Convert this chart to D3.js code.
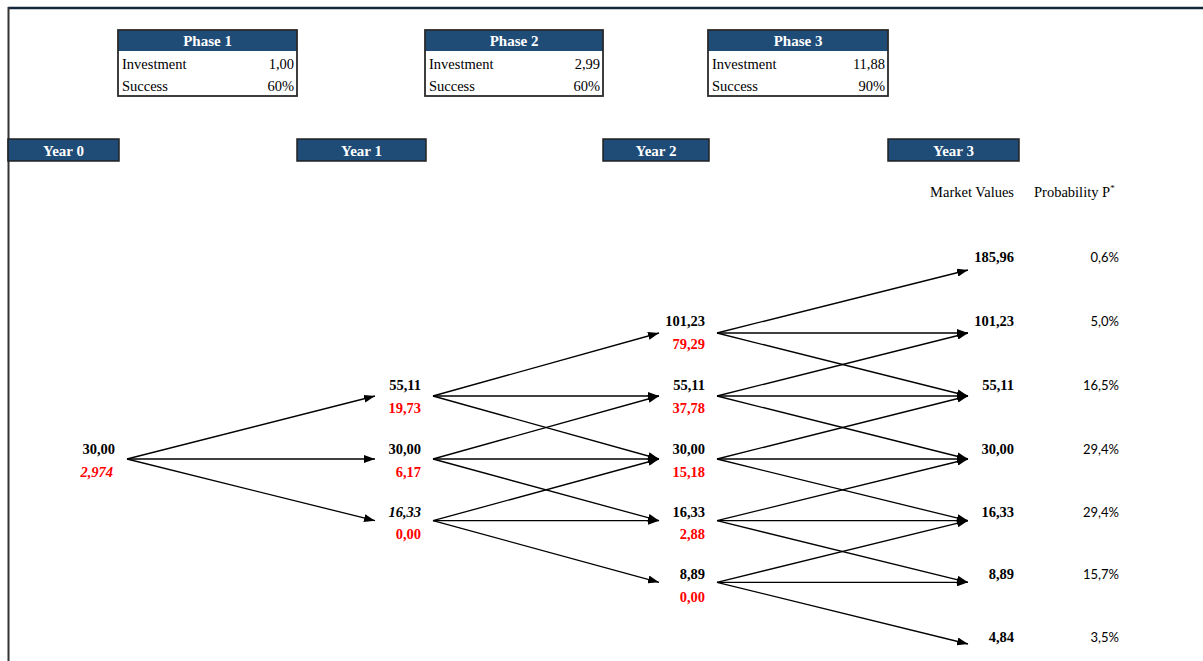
<!DOCTYPE html>
<html>
<head>
<meta charset="utf-8">
<script src="https://cdn.jsdelivr.net/npm/d3@7"></script>
<style>
  html, body { margin: 0; padding: 0; background: #fff; }
  svg { display: block; }
</style>
</head>
<body>
<svg id="chart" width="1203" height="661"></svg>
<script>
// ---------- data ----------
const years = ["Year 0", "Year 1", "Year 2", "Year 3"];
const phases = ["Phase 1", "Phase 2", "Phase 3"];
const phaseRowLabels = ["Investment", "Success"];
const phaseInvestment = ["1,00", "2,99", "11,88"];
const phaseSuccess = ["60%", "60%", "90%"];
const marketValues = [
  ["30,00"],
  ["55,11", "30,00", "16,33"],
  ["101,23", "55,11", "30,00", "16,33", "8,89"],
  ["185,96", "101,23", "55,11", "30,00", "16,33", "8,89", "4,84"]
];
const optionValues = [
  ["2,974"],
  ["19,73", "6,17", "0,00"],
  ["79,29", "37,78", "15,18", "2,88", "0,00"],
  []
];
const probabilities = ["0,6%", "5,0%", "16,5%", "29,4%", "29,4%", "15,7%", "3,5%"];
const columnTitles = ["Market Values", "Probability P"];

// ---------- layout ----------
const svg = d3.select("#chart");
const W = 1203, H = 661;
const serif = "'Liberation Serif', 'Times New Roman', serif";
const sans = "Lato, 'Open Sans', sans-serif";
const navy = "#1f4b77";

// column scale (right edge of node labels per year)
const x = d3.scaleLinear().domain([0, 1, 2, 3]).range([115, 421, 705, 1014]);
// header box edges per year
const boxLeft = d3.scaleLinear().domain([0, 1, 2, 3]).range([8, 297, 603, 888]);
const boxRight = d3.scaleLinear().domain([0, 1, 2, 3]).range([119, 426, 709, 1019]);
// vertical scales by tree level (+3 top ... -3 bottom)
const yArrow = d3.scaleLinear().domain([3, 0, -3]).range([270, 459, 644]);
const yLabel = d3.scaleLinear().domain([3, 0, -3]).range([257, 449, 637]);

// frame
svg.append("line").attr("x1", 8).attr("x2", W).attr("y1", 8).attr("y2", 8)
  .attr("stroke", "#14283c").attr("stroke-width", 2.5);
svg.append("line").attr("x1", 8.5).attr("x2", 8.5).attr("y1", 7).attr("y2", H)
  .attr("stroke", "#333").attr("stroke-width", 2);

// marker
svg.append("defs").append("marker")
  .attr("id", "arrow").attr("markerUnits", "userSpaceOnUse")
  .attr("viewBox", "0 0 11 8").attr("refX", 11).attr("refY", 4)
  .attr("markerWidth", 11).attr("markerHeight", 8).attr("orient", "auto")
  .append("path").attr("d", "M0,0 L11,4 L0,8 Z").attr("fill", "#000");

// phase boxes
phases.forEach((p, i) => {
  const x0 = boxRight(i) - 1, x1 = boxLeft(i + 1);
  const g = svg.append("g");
  g.append("rect").attr("x", x0).attr("y", 30).attr("width", x1 - x0).attr("height", 21)
    .attr("fill", navy);
  g.append("rect").attr("x", x0).attr("y", 30).attr("width", x1 - x0).attr("height", 66)
    .attr("fill", "none").attr("stroke", "#2a2a2a").attr("stroke-width", 1.8);
  g.append("text").attr("x", (x0 + x1) / 2).attr("y", 46).attr("text-anchor", "middle")
    .attr("font-family", serif).attr("font-weight", "bold").attr("font-size", 15)
    .attr("fill", "#fff").text(p);
  const vals = [phaseInvestment[i], phaseSuccess[i]];
  phaseRowLabels.forEach((lab, r) => {
    const yy = 69 + r * 22;
    g.append("text").attr("x", x0 + 4).attr("y", yy)
      .attr("font-family", serif).attr("font-size", 14.5).attr("fill", "#000").text(lab);
    g.append("text").attr("x", x1 - 3).attr("y", yy).attr("text-anchor", "end")
      .attr("font-family", serif).attr("font-size", 14.5).attr("fill", "#000").text(vals[r]);
  });
});

// year headers
years.forEach((yName, i) => {
  svg.append("rect").attr("x", boxLeft(i)).attr("y", 139)
    .attr("width", boxRight(i) - boxLeft(i)).attr("height", 22)
    .attr("fill", navy).attr("stroke", "#222").attr("stroke-width", 1.5);
  svg.append("text").attr("x", (boxLeft(i) + boxRight(i)) / 2).attr("y", 155.5)
    .attr("text-anchor", "middle").attr("font-family", serif).attr("font-weight", "bold")
    .attr("font-size", 15).attr("fill", "#fff").text(yName);
});

// column titles
svg.append("text").attr("x", x(3)).attr("y", 197).attr("text-anchor", "end")
  .attr("font-family", serif).attr("font-size", 14.5).text(columnTitles[0]);
const pt = svg.append("text").attr("x", 1034).attr("y", 197)
  .attr("font-family", serif).attr("font-size", 14.5).text(columnTitles[1]);
pt.append("tspan").attr("dy", -6).attr("font-size", 9).text("*");

// edges
const edges = [];
marketValues.forEach((col, t) => {
  if (t === marketValues.length - 1) return;
  col.forEach((v, i) => {
    const lvl = t - i;
    [1, 0, -1].forEach(d => edges.push({ t, from: lvl, to: lvl + d }));
  });
});
svg.append("g").selectAll("line").data(edges).join("line")
  .attr("x1", d => x(d.t) + 12).attr("y1", d => yArrow(d.from))
  .attr("x2", d => x(d.t + 1) - 46).attr("y2", d => yArrow(d.to))
  .attr("stroke", "#000").attr("stroke-width", 1.3)
  .attr("marker-end", "url(#arrow)");

// node labels
marketValues.forEach((col, t) => {
  col.forEach((v, i) => {
    const lvl = t - i;
    svg.append("text").attr("x", x(t)).attr("y", yLabel(lvl) + 5)
      .attr("text-anchor", "end").attr("font-family", serif).attr("font-weight", "bold")
      .attr("font-size", 14.5).attr("fill", "#000")
      .attr("font-style", (t === 1 && lvl === -1) ? "italic" : "normal")
      .text(v);
    if (optionValues[t][i] !== undefined) {
      svg.append("text").attr("x", x(t) - (t === 0 ? 2 : 0)).attr("y", yLabel(lvl) + 27.5)
        .attr("text-anchor", "end").attr("font-family", serif).attr("font-weight", "bold")
        .attr("font-size", 14.5).attr("fill", "#ff0000")
        .attr("font-style", t === 0 ? "italic" : "normal")
        .text(optionValues[t][i]);
    }
  });
});

// probabilities
probabilities.forEach((p, i) => {
  svg.append("text").attr("x", 1119).attr("y", yLabel(3 - i) + 5)
    .attr("text-anchor", "end").attr("font-family", sans).attr("font-size", 13)
    .attr("fill", "#000").text(p);
});
</script>
</body>
</html>
